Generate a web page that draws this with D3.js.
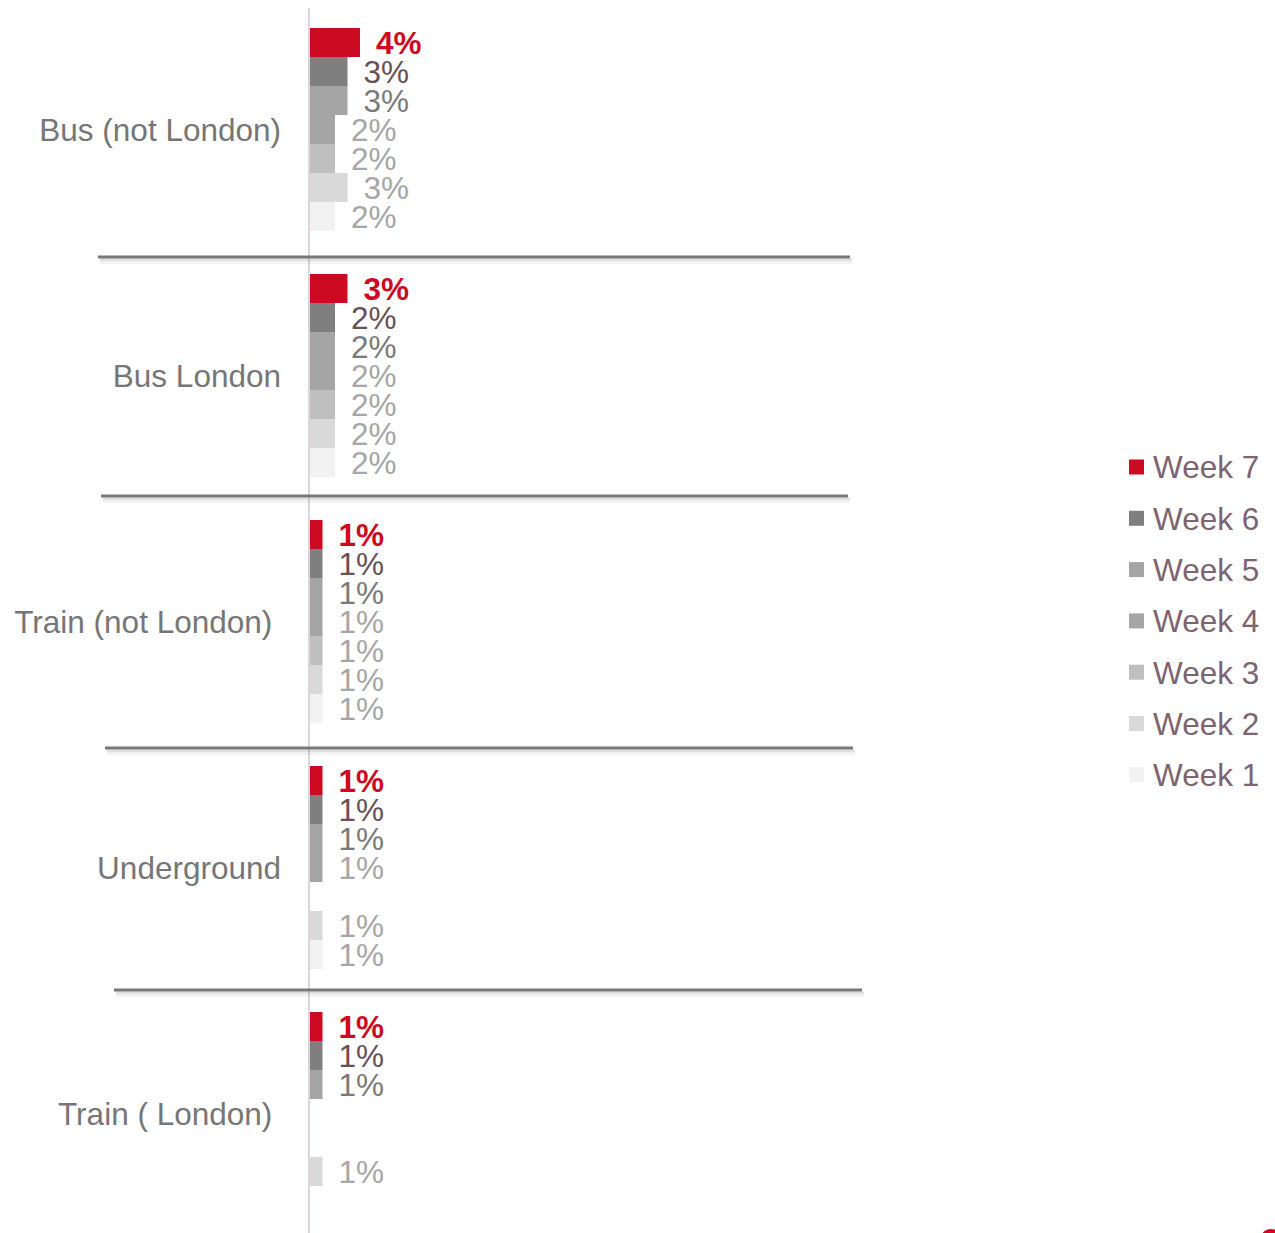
<!DOCTYPE html>
<html>
<head>
<meta charset="utf-8">
<script src="https://cdn.jsdelivr.net/npm/d3@7"></script>
<style>
  body { margin: 0; background: #fff; }
  text { font-family: "Liberation Sans", Arial, sans-serif; }
</style>
</head>
<body>
<div id="chart"></div>
<script>
// categories (top to bottom) and weeks (top bar to bottom bar in each group)
var categories = ["Bus (not London)", "Bus London", "Train (not London) ", "Underground", "Train ( London) "];
var weeks = ["Week 7", "Week 6", "Week 5", "Week 4", "Week 3", "Week 2", "Week 1"];

// values in %, one array per category, ordered Week 7 .. Week 1 (null = no bar)
var busNotLondon   = [4, 3, 3, 2, 2, 3, 2];
var busLondon      = [3, 2, 2, 2, 2, 2, 2];
var trainNotLondon = [1, 1, 1, 1, 1, 1, 1];
var underground    = [1, 1, 1, 1, null, 1, 1];
var trainLondon    = [1, 1, 1, null, null, 1, null];
var seriesByCat = [busNotLondon, busLondon, trainNotLondon, underground, trainLondon];

var barColors   = ["#cc0a21", "#7f7f7f", "#a5a5a5", "#a5a5a5", "#bfbfbf", "#d9d9d9", "#f2f2f2"];
var labelColors = ["#cc0a21", "#665059", "#7a7a7a", "#a6a6a6", "#a6a6a6", "#a6a6a6", "#a6a6a6"];

var width = 1275, height = 1233;
var fontSize = "31.5px";

// hand-drawn separator lines between groups: [x1, x2, y]
var separators = [[98, 850, 257], [101, 848, 496], [105, 853, 748], [114, 862, 990]];

var svg = d3.select("#chart")
  .append("svg")
  .attr("width", width)
  .attr("height", height);

// scales
var y0 = d3.scaleBand().domain(categories).range([28, 28 + 246 * categories.length]);
var y1 = d3.scaleBand().domain(weeks).range([0, 203]);
var x = d3.scaleLinear().domain([0, 1]).range([310, 322.5]);

// flatten into rows
var rows = [];
categories.forEach(function (c, i) {
  seriesByCat[i].forEach(function (v, j) {
    if (v != null) rows.push({cat: c, week: weeks[j], idx: j, value: v});
  });
});

// vertical axis line
svg.append("line")
  .attr("x1", 309).attr("x2", 309)
  .attr("y1", 8).attr("y2", height)
  .style("stroke", "#ddd5d9")
  .style("stroke-width", 2);

// separators (with a faint shadow underneath)
var seps = svg.append("g");
separators.forEach(function (s) {
  [[4.5, 5, 0.05], [2.5, 3, 0.07]].forEach(function (sh) {
    seps.append("line")
      .attr("x1", s[0] + 2).attr("x2", s[1] + 2)
      .attr("y1", s[2] + sh[0]).attr("y2", s[2] + sh[0])
      .style("stroke", "#000")
      .style("stroke-opacity", sh[2])
      .style("stroke-width", sh[1]);
  });
  seps.append("line")
    .attr("x1", s[0]).attr("x2", s[1])
    .attr("y1", s[2]).attr("y2", s[2])
    .style("stroke", "#787878")
    .style("stroke-width", 3);
});

// bars
svg.append("g")
  .selectAll("rect")
  .data(rows)
  .enter()
  .append("rect")
  .attr("x", x(0))
  .attr("y", function (d) { return y0(d.cat) + y1(d.week); })
  .attr("width", function (d) { return x(d.value) - x(0); })
  .attr("height", y1.bandwidth())
  .style("fill", function (d) { return barColors[d.idx]; });

// value labels
svg.append("g")
  .selectAll("text")
  .data(rows)
  .enter()
  .append("text")
  .attr("x", function (d) { return x(d.value) + 16; })
  .attr("y", function (d) { return y0(d.cat) + y1(d.week) + y1.bandwidth() / 2; })
  .attr("dy", "0.36em")
  .style("font-size", fontSize)
  .style("font-weight", function (d) { return d.idx === 0 ? "bold" : "normal"; })
  .style("fill", function (d) { return labelColors[d.idx]; })
  .text(function (d) { return d.value + "%"; });

// category labels
svg.append("g")
  .selectAll("text")
  .data(categories)
  .enter()
  .append("text")
  .attr("x", 281)
  .attr("y", function (d) { return y0(d) + 203 / 2; })
  .attr("dy", "0.36em")
  .style("text-anchor", "end")
  .style("white-space", "pre")
  .style("font-size", fontSize)
  .style("fill", "#767676")
  .text(function (d) { return d; });

// legend
var legend = svg.append("g")
  .selectAll("g")
  .data(weeks)
  .enter()
  .append("g")
  .attr("transform", function (d, i) { return "translate(1129," + (467 + i * 51.3) + ")"; });

legend.append("rect")
  .attr("x", 0).attr("y", -7.5)
  .attr("width", 15).attr("height", 15)
  .style("fill", function (d, i) { return barColors[i]; });

legend.append("text")
  .attr("x", 24).attr("y", 0)
  .attr("dy", "0.36em")
  .style("font-size", fontSize)
  .style("fill", "#7d6470")
  .text(function (d) { return d; });

// cut-off red mark in the corner
svg.append("circle")
  .attr("cx", 1271).attr("cy", 1240).attr("r", 9)
  .style("fill", "none")
  .style("stroke", "#cc0a21")
  .style("stroke-width", 4);
</script>
</body>
</html>
